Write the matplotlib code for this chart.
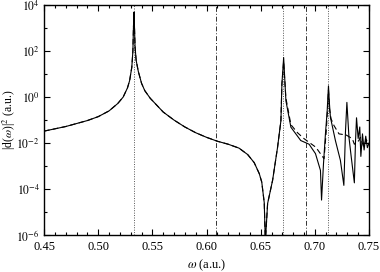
import matplotlib
matplotlib.use("Agg")
import matplotlib.pyplot as plt
from matplotlib.ticker import FixedLocator, FixedFormatter, NullFormatter
import numpy as np

plt.rcParams['font.family'] = ['Liberation Serif', 'DejaVu Serif']
plt.rcParams['mathtext.fontset'] = 'stix'

# solid curve: omega (a.u.) and log10 |d|^2
omega_solid = [0.450, 0.470, 0.490, 0.500, 0.510, 0.518, 0.523, 0.527, 0.529, 0.531,
               0.532, 0.5325, 0.533, 0.5335, 0.534, 0.535, 0.537, 0.540, 0.543, 0.548,
               0.553, 0.560, 0.570, 0.580, 0.590, 0.600, 0.610, 0.620, 0.630, 0.638,
               0.644, 0.6487, 0.651, 0.6533, 0.6543, 0.6564, 0.661, 0.6656, 0.6687, 0.6696,
               0.6705, 0.6712, 0.672, 0.6733, 0.6779, 0.687, 0.6947, 0.7006, 0.7052, 0.7062,
               0.7080, 0.7098, 0.7114, 0.7126, 0.7135, 0.7144, 0.719, 0.7236, 0.7268, 0.7283,
               0.7296, 0.7315, 0.7336, 0.7365, 0.7375, 0.7385, 0.7400, 0.7415, 0.7425, 0.7440,
               0.7455, 0.7470, 0.7485, 0.7500]
log_solid = [-1.48, -1.28, -1.02, -0.85, -0.60, -0.28, 0.00, 0.40, 0.72, 1.30,
             2.00, 3.00, 3.70, 3.00, 2.20, 1.60, 1.12, 0.60, 0.28, -0.05,
             -0.30, -0.65, -1.00, -1.30, -1.55, -1.75, -1.92, -2.05, -2.22, -2.50,
             -2.85, -3.33, -3.70, -4.60, -6.30, -4.63, -3.62, -2.18, -1.02, 0.57,
             1.20, 1.72, 1.00, -0.16, -1.31, -1.89, -2.05, -2.46, -3.19, -4.48,
             -2.90, -1.60, -0.60, 0.49, -0.30, -0.88, -1.89, -2.75, -3.84, -1.50,
             -0.23, -1.74, -2.60, -3.73, -2.00, -0.90, -1.80, -1.30, -2.58, -1.60,
             -2.30, -1.70, -2.20, -2.00]

# dashed curve: omega (a.u.) and log10 |d|^2
omega_dashed = [0.450, 0.470, 0.490, 0.500, 0.510, 0.518, 0.523, 0.527, 0.529, 0.531,
                0.532, 0.5325, 0.533, 0.5335, 0.534, 0.535, 0.537, 0.540, 0.543, 0.548,
                0.553, 0.560, 0.570, 0.580, 0.590, 0.600, 0.610, 0.620, 0.630, 0.638,
                0.644, 0.6487, 0.651, 0.6533, 0.6543, 0.6564, 0.661, 0.6656, 0.6687, 0.6696,
                0.6705, 0.6712, 0.672, 0.6733, 0.6779, 0.6840, 0.6901, 0.7009, 0.7085, 0.7105,
                0.7118, 0.7126, 0.7135, 0.7150, 0.7177, 0.7223, 0.7290, 0.7346, 0.7365, 0.7407,
                0.7420, 0.7450, 0.7475, 0.7500]
log_dashed = [-1.48, -1.28, -1.02, -0.85, -0.60, -0.28, 0.00, 0.40, 0.72, 1.30,
              2.00, 3.00, 3.60, 3.00, 2.20, 1.60, 1.12, 0.60, 0.28, -0.05,
              -0.30, -0.65, -1.00, -1.30, -1.55, -1.75, -1.92, -2.05, -2.22, -2.50,
              -2.85, -3.33, -3.70, -4.60, -6.30, -4.63, -3.62, -2.18, -1.02, 0.57,
              1.10, 1.55, 0.90, -0.05, -1.20, -1.55, -1.81, -2.18, -2.68, -1.50,
              -0.50, 0.30, -0.50, -0.95, -1.24, -1.60, -1.65, -1.81, -2.05, -1.89,
              -1.75, -2.15, -1.85, -2.03]

# vertical marker lines
dotted_lines = [0.533, 0.671, 0.7125]
dashdot_lines = [0.609, 0.692]

xticks = [0.45, 0.50, 0.55, 0.60, 0.65, 0.70, 0.75]
xtick_labels = ['0.45', '0.50', '0.55', '0.60', '0.65', '0.70', '0.75']
yticks = [1e-6, 1e-4, 1e-2, 1e0, 1e2, 1e4]
ytick_labels = [r'$10^{-6}$', r'$10^{-4}$', r'$10^{-2}$', r'$10^{0}$', r'$10^{2}$', r'$10^{4}$']

fig = plt.figure(figsize=(3.8, 2.72), dpi=100)
ax = fig.add_axes([0.116, 0.136, 0.855, 0.845])

ax.plot(omega_solid, 10 ** np.array(log_solid), color='black', lw=0.8, ls='-', zorder=3)
ax.plot(omega_dashed, 10 ** np.array(log_dashed), color='black', lw=0.8, ls=(0, (5, 3)), zorder=2)

for v in dotted_lines:
    ax.axvline(v, color='#555555', lw=0.7, ls=(0, (1, 1.5)), zorder=1)
for v in dashdot_lines:
    ax.axvline(v, color='#333333', lw=0.7, ls=(0, (5, 2, 1, 2)), zorder=1)

ax.set_yscale('log')
ax.set_xlim(0.45, 0.75)
ax.set_ylim(1e-6, 1e4)

ax.xaxis.set_major_locator(FixedLocator(xticks))
ax.xaxis.set_major_formatter(FixedFormatter(xtick_labels))
ax.xaxis.set_minor_locator(FixedLocator(list(np.round(np.arange(0.45, 0.7501, 0.01), 3))))
ax.yaxis.set_major_locator(FixedLocator(yticks))
ax.yaxis.set_major_formatter(FixedFormatter(ytick_labels))
ax.yaxis.set_minor_locator(FixedLocator([1e-5, 1e-3, 1e-1, 1e1, 1e3]))
ax.yaxis.set_minor_formatter(NullFormatter())

ax.tick_params(which='both', direction='in', top=True, right=True, labelsize=9)
ax.tick_params(axis='x', which='major', length=4, width=0.8, pad=4)
ax.tick_params(axis='y', which='major', length=4, width=0.8, pad=3, labelsize=8.5)
ax.tick_params(which='minor', length=2.5, width=0.8)
for s in ax.spines.values():
    s.set_linewidth(1.0)

ax.set_xlabel(r'$\omega$ (a.u.)', fontsize=9)
ax.xaxis.set_label_coords(0.5, -0.1)
ax.set_ylabel(r'|d($\omega$)|$^2$ (a.u.)', fontsize=8.5)
ax.yaxis.set_label_coords(-0.08, 0.5)

fig.savefig('out.png', dpi=100)
